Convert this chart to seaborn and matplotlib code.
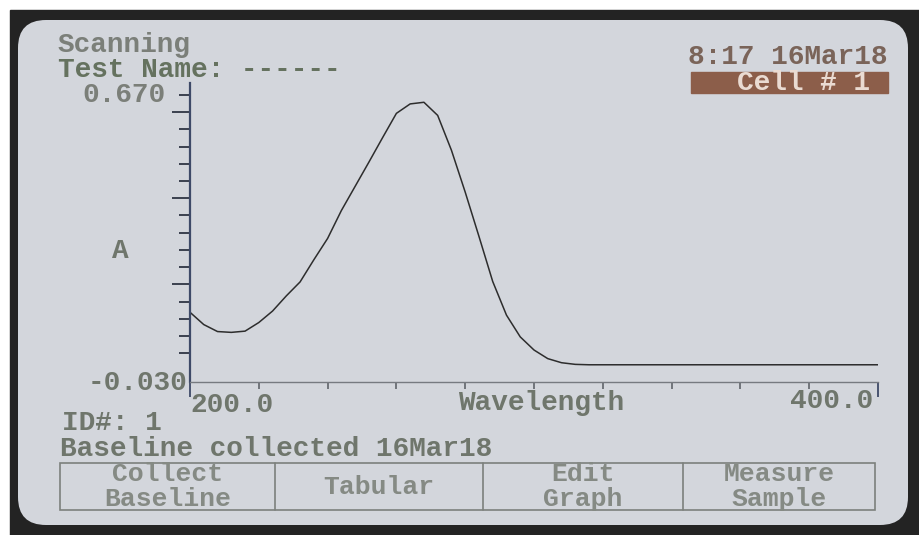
import numpy as np
import pandas as pd
import matplotlib
matplotlib.use("Agg")
import matplotlib.pyplot as plt
import seaborn as sns
from matplotlib.patches import FancyBboxPatch, Rectangle

# spectrum
wavelength_nm = [200, 204, 208, 212, 216, 220, 224, 228, 232, 236, 240, 244,
                 248, 252, 256, 260, 264, 268, 272, 276, 280, 284, 288, 292,
                 296, 300, 304, 308, 312, 316, 400]
absorbance = [0.140, 0.110, 0.093, 0.091, 0.094, 0.115, 0.143, 0.180, 0.214,
              0.268, 0.320, 0.388, 0.447, 0.506, 0.566, 0.625, 0.648, 0.652,
              0.620, 0.535, 0.433, 0.325, 0.215, 0.133, 0.080, 0.048, 0.027,
              0.017, 0.013, 0.012, 0.012]

x_range = (200.0, 400.0)
y_range = (-0.030, 0.670)
x_minor = [220, 240, 260, 280, 300, 320, 340, 360, 380]
y_tick_step = 0.042

header_left = ["Scanning", "Test Name: ------"]
header_right = "8:17 16Mar18"
cell_label = "Cell # 1"
footer_lines = ["ID#: 1", "Baseline collected 16Mar18"]
buttons = [["Collect", "Baseline"], ["Tabular"], ["Edit", "Graph"], ["Measure", "Sample"]]

df = pd.DataFrame({"Wavelength": wavelength_nm, "A": absorbance})

sns.set_theme(style="white")
plt.rcParams["font.family"] = ["Liberation Mono", "DejaVu Sans Mono"]

TXT = "#6f766c"
BTN = "#858a84"
FS = 20
FS_BTN = 19

fig = plt.figure(figsize=(9.19, 5.35), dpi=100)

# screen, bezel and panel text in pixel coordinates
bg = fig.add_axes([0, 0, 1, 1])
bg.set_xlim(0, 919)
bg.set_ylim(535, 0)
bg.axis("off")
bg.add_patch(Rectangle((0, 0), 919, 535, color="white"))
bg.add_patch(Rectangle((10, 10), 909, 525, color="#232323"))
bg.add_patch(FancyBboxPatch((18, 20), 890, 505, boxstyle="round,pad=0,rounding_size=28",
                            fc="#d3d6dc", ec="none"))

bg.text(58, 52, header_left[0], fontsize=FS, fontweight="bold", color="#7b7f79")
bg.text(58, 77, header_left[1], fontsize=FS, fontweight="bold", color="#65725f")
bg.text(888, 64, header_right, fontsize=FS, fontweight="bold", color="#7a6459", ha="right")
bg.add_patch(Rectangle((691, 72), 197, 21, color="#8c5e4a"))
bg.text(870, 90, cell_label, fontsize=FS, fontweight="bold", color="#eadbd2", ha="right")

bg.text(62, 430, footer_lines[0], fontsize=FS, fontweight="bold", color=TXT)
bg.text(60, 456, footer_lines[1], fontsize=FS, fontweight="bold", color=TXT)

# soft-key strip
edges = [60, 275, 483, 683, 875]
bg.add_patch(Rectangle((60, 463), 815, 47, fill=False, ec="#7c807d", lw=1.2))
for xe in edges[1:-1]:
    bg.plot([xe, xe], [463, 510], color="#7c807d", lw=1.2)
for i, words in enumerate(buttons):
    cx = (edges[i] + edges[i + 1]) / 2
    if len(words) == 1:
        bg.text(cx, 494, words[0], fontsize=FS_BTN, fontweight="bold", color=BTN, ha="center")
    else:
        bg.text(cx, 481, words[0], fontsize=FS_BTN, fontweight="bold", color=BTN, ha="center")
        bg.text(cx, 506, words[1], fontsize=FS_BTN, fontweight="bold", color=BTN, ha="center")

# the scan itself
ax = fig.add_axes([190 / 919, 1 - 382 / 535, 688 / 919, 299 / 535])
ax.patch.set_alpha(0)
sns.lineplot(data=df, x="Wavelength", y="A", ax=ax, color="#2d2d2d", lw=1.1)
ax.set_xlim(*x_range)
ax.set_ylim(y_range[0], y_range[1] + 0.029)

for s in ["top", "right"]:
    ax.spines[s].set_visible(False)
ax.spines["left"].set_color("#3e4a68")
ax.spines["left"].set_linewidth(1.6)
ax.spines["bottom"].set_color("#767a80")
ax.spines["bottom"].set_linewidth(1.0)

ax.set_xticks(list(x_range))
ax.set_xticklabels([])
ax.set_xticks(x_minor, minor=True)
ax.tick_params(axis="x", which="both", bottom=True, direction="out")
ax.tick_params(axis="x", which="major", length=11, width=1.3, colors="#3e4a68")
ax.tick_params(axis="x", which="minor", length=5, width=1.1, colors="#555a60")

yt = y_range[1] - y_tick_step * np.arange(16)
ax.set_yticks(yt[[1, 6, 11]])
ax.set_yticklabels([])
ax.set_yticks(np.delete(yt, [1, 6, 11]), minor=True)
ax.tick_params(axis="y", which="both", left=True, direction="out", width=1.3, colors="#2f3544")
ax.tick_params(axis="y", which="major", length=13)
ax.tick_params(axis="y", which="minor", length=8)
ax.grid(False)

ax.annotate(f"{y_range[1]:.3f}", xy=(0, y_range[1]), xycoords=("axes fraction", "data"),
            xytext=(-25, -7), textcoords="offset pixels", ha="right", va="baseline",
            fontsize=FS, fontweight="bold", color="#7b7f79")
ax.annotate(f"{y_range[0]:.3f}", xy=(0, y_range[0]), xycoords=("axes fraction", "data"),
            xytext=(-3, -8), textcoords="offset pixels", ha="right", va="baseline",
            fontsize=FS, fontweight="bold", color=TXT)
ax.annotate(f"{x_range[0]:.1f}", xy=(x_range[0], 0), xycoords=("data", "axes fraction"),
            xytext=(0, -30), textcoords="offset pixels", ha="left", va="baseline",
            fontsize=FS, fontweight="bold", color=TXT)
ax.annotate(f"{x_range[1]:.1f}", xy=(x_range[1], 0), xycoords=("data", "axes fraction"),
            xytext=(-5, -26), textcoords="offset pixels", ha="right", va="baseline",
            fontsize=FS, fontweight="bold", color=TXT)

ax.set_xlabel("Wavelength", fontsize=FS, fontweight="bold", color=TXT, va="baseline")
ax.xaxis.set_label_coords(0.510, -0.094)
ax.set_ylabel("A", fontsize=FS, fontweight="bold", color=TXT, rotation=0, va="baseline", ha="center")
ax.yaxis.set_label_coords(-0.1017, 0.415)

fig.savefig("out.png", dpi=100)
